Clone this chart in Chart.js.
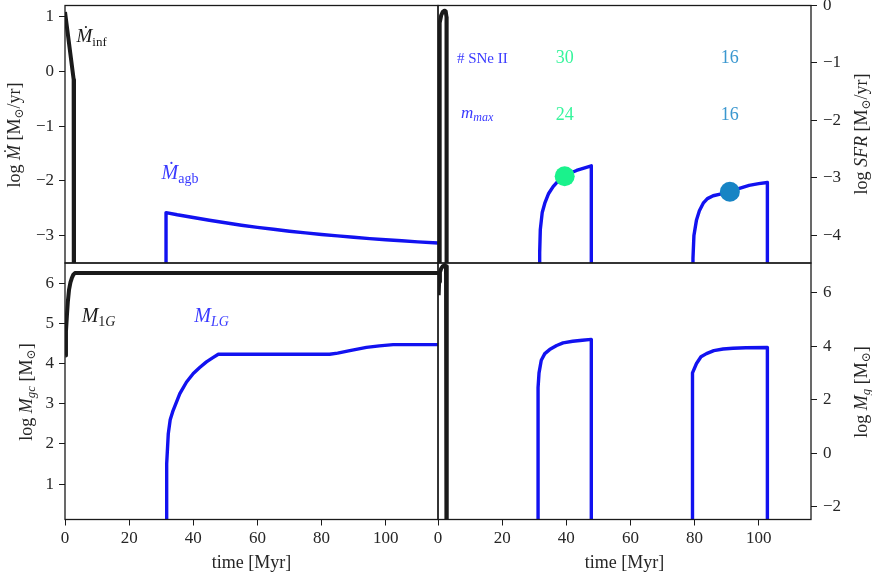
<!DOCTYPE html>
<html>
<head>
<meta charset="utf-8">
<script src="https://cdn.jsdelivr.net/npm/chart.js@4.4.0/dist/chart.umd.min.js"></script>
<style>
  html, body { margin: 0; padding: 0; background: #fff; }
  #wrap { position: relative; width: 872px; height: 574px; }
  #wrap canvas { position: absolute; left: 0; top: 0; }
</style>
</head>
<body>
<div id="wrap">
  <canvas id="cMdot" width="872" height="574"></canvas>
  <canvas id="cSfr" width="872" height="574"></canvas>
  <canvas id="cMgc" width="872" height="574"></canvas>
  <canvas id="cMg" width="872" height="574"></canvas>
</div>
<script>
// time axis, shared by all panels
const X_MAX = 116.3;
const xTicks = [0, 20, 40, 60, 80, 100];

// top left: log Mdot (inflow and AGB ejecta); -10 stands for "no flow"
const infT = [0, 2.7, 2.8];
const infV = [1.08, -0.15, -10];
const agbT = [31.5, 31.5, 35, 40, 45, 50, 55, 60, 65, 70, 75, 80, 85, 90, 95, 100, 105, 110, 116.3];
const agbV = [-10, -2.58, -2.62, -2.67, -2.72, -2.765, -2.81, -2.85, -2.885, -2.92, -2.95, -2.98, -3.005, -3.03, -3.055, -3.075, -3.095, -3.115, -3.135];
const yTicksMdot = [-3, -2, -1, 0, 1];

// top right: log SFR
const sfr1gT = [0.45, 0.45, 0.6, 1.0, 1.5, 2.0, 2.4, 2.65, 2.7];
const sfr1gV = [-10, -0.6, -0.3, -0.17, -0.11, -0.09, -0.1, -0.2, -10];
const sfrB1T = [31.7, 31.7, 31.9, 32.5, 33.3, 34.5, 35.9, 37.5, 39.5, 41.5, 43.2, 45.5, 47.8, 47.8];
const sfrB1V = [-10, -4.3, -3.9, -3.6, -3.44, -3.27, -3.15, -3.05, -2.97, -2.91, -2.87, -2.83, -2.79, -10];
const sfrB2T = [79.5, 79.5, 79.8, 80.6, 81.5, 82.7, 84, 85.8, 88, 91, 94, 97, 100, 102.7, 102.7];
const sfrB2V = [-10, -4.4, -4.0, -3.73, -3.57, -3.44, -3.36, -3.31, -3.28, -3.24, -3.18, -3.13, -3.1, -3.08, -10];
const yTicksSfr = [-4, -3, -2, -1, 0];

// supernova markers and their counts
const snT = [39.5, 91.0];
const snSfr = [-2.97, -3.24];
const snCount = [30, 16];
const snMmax = [24, 16];

// bottom left: log M_gc
const m1gT = [0.1, 0.3, 0.6, 0.9, 1.25, 1.7, 2.1, 2.6, 3.1, 116.3];
const m1gV = [4.2, 4.8, 5.2, 5.55, 5.83, 6.02, 6.12, 6.21, 6.25, 6.25];
const mlgT = [31.6, 31.6, 31.8, 32.2, 32.8, 33.7, 35.8, 37.9, 40, 42, 44.1, 46, 47.8, 82.5, 85, 88.8, 94, 98, 102.3, 116.3];
const mlgV = [-10, 0.5, 1.5, 2.25, 2.6, 2.83, 3.25, 3.54, 3.75, 3.9, 4.04, 4.14, 4.23, 4.23, 4.26, 4.32, 4.40, 4.44, 4.47, 4.47];
const yTicksMgc = [1, 2, 3, 4, 5, 6];

// bottom right: log M_g
const mg1gT = [0.2, 0.35, 0.6, 1.0, 1.5, 2.1, 2.5, 2.7, 2.75];
const mg1gV = [5.9, 6.4, 6.75, 6.9, 6.98, 7.02, 6.98, 6.7, -10];
const mgB1T = [31.2, 31.2, 31.5, 32.2, 33.3, 34.8, 37, 39, 42, 45, 47.8, 47.8];
const mgB1V = [-10, 2.45, 3.0, 3.47, 3.72, 3.87, 4.02, 4.12, 4.18, 4.22, 4.25, -10];
const mgB2T = [79.2, 79.2, 79.5, 80.6, 82, 83.7, 86, 88.9, 92, 96, 102.7, 102.7];
const mgB2V = [-10, 2.4, 3.0, 3.35, 3.6, 3.72, 3.83, 3.89, 3.92, 3.94, 3.95, -10];
const yTicksMg = [-2, 0, 2, 4, 6];

const SERIF = '"Liberation Serif", "DejaVu Serif", serif';
const INK = '#1a1a1a';
const TXT = '#262626';
const BLUE = '#1212f0';
const BLUE_TXT = '#3a3aff';
const GREEN = '#1af28c';
const GREEN_TXT = '#36f59c';
const TEAL = '#1784c4';
const TEAL_TXT = '#3a97cf';
const W_BLACK = 4;
const W_BLUE = 3.4;

const pts = (xs, ys) => xs.map((x, i) => ({ x, y: ys[i] }));
const f = (size, style) => `${style || ''} ${size}px ${SERIF}`;

function line(xs, ys, color, w) {
  return {
    data: pts(xs, ys), borderColor: color, borderWidth: w,
    pointRadius: 0, fill: false, tension: 0, clip: 0,
    borderJoinStyle: 'round',
  };
}

function drawParts(ctx, parts, x, y, color, opt) {
  ctx.save();
  ctx.translate(x, y);
  ctx.rotate(opt.rot || 0);
  ctx.fillStyle = color;
  ctx.textBaseline = opt.base || 'alphabetic';
  ctx.textAlign = 'left';
  let w = 0;
  parts.forEach(p => { ctx.font = p.f; w += ctx.measureText(p.t).width; });
  let cx = opt.align === 'center' ? -w / 2 : 0;
  parts.forEach(p => {
    ctx.font = p.f;
    ctx.fillText(p.t, cx, p.dy || 0);
    cx += ctx.measureText(p.t).width;
  });
  ctx.restore();
}

// text placed in data coordinates, axis titles in pixels
function notes(items, title) {
  return {
    id: 'notes',
    afterDraw(chart) {
      const { ctx, scales } = chart;
      items.forEach(it => {
        drawParts(ctx, it.parts, scales.x.getPixelForValue(it.x), scales.y.getPixelForValue(it.y), it.color, it);
      });
      if (title) drawParts(ctx, title.parts, title.px, title.py, TXT, { rot: -Math.PI / 2, base: 'middle', align: 'center' });
    },
  };
}

const frame = {
  id: 'frame',
  afterDatasetsDraw(chart) {
    const { ctx, chartArea: a } = chart;
    ctx.save();
    ctx.strokeStyle = INK;
    ctx.lineWidth = 1.3;
    ctx.strokeRect(a.left, a.top, a.right - a.left, a.bottom - a.top);
    ctx.restore();
  },
};

const tickFont = { family: SERIF, size: 17 };
const minus = v => String(v).replace('-', '\u2212');

function xAxis(show) {
  return {
    type: 'linear', min: 0, max: X_MAX, display: show,
    afterBuildTicks: s => { s.ticks = xTicks.map(v => ({ value: v })); },
    afterFit: s => { if (show) s.height = 54.5; s.paddingLeft = 0; s.paddingRight = 0; },
    ticks: { font: tickFont, color: TXT, padding: 3, autoSkip: false, maxRotation: 0, callback: minus },
    grid: { drawOnChartArea: false, drawTicks: true, tickLength: 6, color: INK },
    border: { display: false },
    title: { display: show, text: 'time [Myr]', font: { family: SERIF, size: 18 }, color: TXT, padding: { top: 0, bottom: 0 } },
  };
}

function yAxis(pos, min, max, ticks) {
  return {
    type: 'linear', position: pos, min, max,
    afterBuildTicks: s => { s.ticks = ticks.map(v => ({ value: v })); },
    afterFit: s => { s.width = 50; s.paddingTop = 0; s.paddingBottom = 0; },
    ticks: { font: tickFont, color: TXT, padding: pos === 'left' ? 5 : 6, autoSkip: false, callback: minus },
    grid: { drawOnChartArea: false, drawTicks: true, tickLength: 6, color: INK },
    border: { display: false },
  };
}

function panel(id, datasets, scales, padding, plugins) {
  return new Chart(document.getElementById(id), {
    type: 'line',
    data: { datasets },
    options: {
      responsive: false, animation: false, events: [],
      layout: { padding, autoPadding: false },
      scales,
      plugins: { legend: { display: false }, tooltip: { enabled: false } },
    },
    plugins: [frame].concat(plugins),
  });
}

const sun = { t: '\u2299', f: f(12), dy: 5 };

// top left
panel('cMdot',
  [line(infT, infV, INK, W_BLACK), line(agbT, agbV, BLUE, W_BLUE)],
  { x: xAxis(false), y: yAxis('left', -3.5, 1.2, yTicksMdot) },
  { left: 15, right: 434, top: 5.5, bottom: 311 },
  [notes([
    { x: 3.6, y: 0.54, color: INK, parts: [{ t: '\u1E40', f: f(19, 'italic') }, { t: 'inf', f: f(13), dy: 4 }] },
    { x: 30.1, y: -1.96, color: BLUE_TXT, parts: [{ t: '\u1E40', f: f(20, 'italic') }, { t: 'agb', f: f(14), dy: 4 }] },
  ], { px: 15, py: 135, parts: [{ t: 'log ', f: f(18) }, { t: '\u1E40', f: f(18, 'italic') }, { t: ' [M', f: f(18) }, sun, { t: '/yr]', f: f(18) }] })]
);

// top right
const snLabels = [
  { x: 5.9, y: -1.0, color: BLUE_TXT, parts: [{ t: '# SNe II', f: f(15) }] },
  { x: 7.2, y: -1.96, color: BLUE_TXT, parts: [{ t: 'm', f: f(17, 'italic') }, { t: 'max', f: f(12, 'italic'), dy: 3 }] },
];
const snTxtColors = [GREEN_TXT, TEAL_TXT];
snT.forEach((t, i) => {
  snLabels.push({ x: t, y: -1.0, color: snTxtColors[i], align: 'center', parts: [{ t: String(snCount[i]), f: f(18) }] });
  snLabels.push({ x: t, y: -2.0, color: snTxtColors[i], align: 'center', parts: [{ t: String(snMmax[i]), f: f(18) }] });
});
panel('cSfr',
  [
    { data: pts(snT, snSfr), showLine: false, pointRadius: 10, pointBorderWidth: 0, pointBackgroundColor: [GREEN, TEAL], clip: false },
    line(sfr1gT, sfr1gV, INK, W_BLACK),
    line(sfrB1T, sfrB1V, BLUE, W_BLUE),
    line(sfrB2T, sfrB2V, BLUE, W_BLUE),
  ],
  { x: xAxis(false), y: yAxis('right', -4.48, 0, yTicksSfr) },
  { left: 438, right: 11, top: 5.5, bottom: 311 },
  [notes(snLabels, { px: 862, py: 134, parts: [{ t: 'log ', f: f(18) }, { t: 'SFR', f: f(18, 'italic') }, { t: ' [M', f: f(18) }, sun, { t: '/yr]', f: f(18) }] })]
);

// bottom left
panel('cMgc',
  [line(m1gT, m1gV, INK, W_BLACK), line(mlgT, mlgV, BLUE, W_BLUE)],
  { x: xAxis(true), y: yAxis('left', 0.12, 6.5, yTicksMgc) },
  { left: 15, right: 434, top: 263, bottom: 0 },
  [notes([
    { x: 5.2, y: 5.04, color: INK, parts: [{ t: 'M', f: f(20, 'italic') }, { t: '1', f: f(14), dy: 4 }, { t: 'G', f: f(14, 'italic'), dy: 4 }] },
    { x: 40.3, y: 5.04, color: BLUE_TXT, parts: [{ t: 'M', f: f(20, 'italic') }, { t: 'LG', f: f(14, 'italic'), dy: 4 }] },
  ], { px: 27, py: 392, parts: [{ t: 'log ', f: f(18) }, { t: 'M', f: f(18, 'italic') }, { t: 'gc', f: f(13, 'italic'), dy: 5 }, { t: ' [M', f: f(18) }, sun, { t: ']', f: f(18) }] })]
);

// bottom right
panel('cMg',
  [line(mg1gT, mg1gV, INK, W_BLACK), line(mgB1T, mgB1V, BLUE, W_BLUE), line(mgB2T, mgB2V, BLUE, W_BLUE)],
  { x: xAxis(true), y: yAxis('right', -2.47, 7.1, yTicksMg) },
  { left: 438, right: 11, top: 263, bottom: 0 },
  [notes([], { px: 862, py: 392, parts: [{ t: 'log ', f: f(18) }, { t: 'M', f: f(18, 'italic') }, { t: 'g', f: f(13, 'italic'), dy: 5 }, { t: ' [M', f: f(18) }, sun, { t: ']', f: f(18) }] })]
);
</script>
</body>
</html>
